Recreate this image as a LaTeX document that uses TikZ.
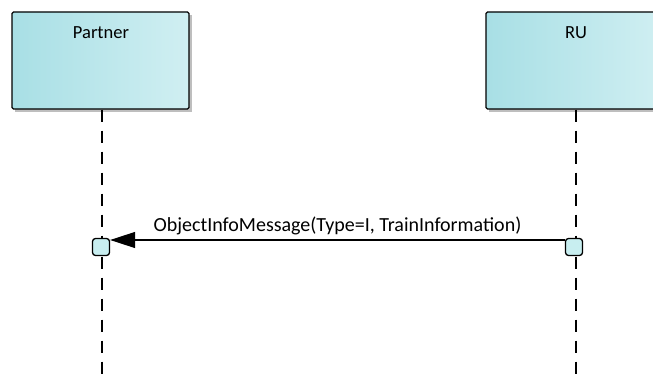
\documentclass[tikz,border=0pt]{standalone}
\usepackage{fontspec}
\setmainfont{Carlito}
\usetikzlibrary{arrows.meta,calc}
\definecolor{boxL}{RGB}{168,223,229}
\definecolor{boxR}{RGB}{208,239,242}
\definecolor{actfill}{RGB}{200,238,240}
\definecolor{shadowc}{RGB}{190,190,190}
\tikzset{
  lifebox/.style={draw=black, line width=1.4pt, rounded corners=1.5pt, left color=boxL, right color=boxR, minimum width=177pt, minimum height=97pt, inner sep=0pt},
  boxshadow/.style={fill=shadowc, draw=none, minimum width=177pt, minimum height=97pt, inner sep=0pt},
  lifeline/.style={draw=black, line width=1.3pt, dash pattern=on 12pt off 9pt},
  actbox/.style={draw=black, line width=1.3pt, fill=actfill, rounded corners=3pt, minimum size=17pt, inner sep=0pt},
  msg/.style={draw=black, line width=1.2pt, -{Triangle[length=25pt,width=16pt]}},
  lbl/.style={font=\fontsize{18.5}{22}\selectfont, inner sep=0pt},
  msglbl/.style={font=\fontsize{20}{24}\selectfont, inner sep=0pt}
}
\begin{document}
\begin{tikzpicture}[x=1pt,y=-1pt]
\useasboundingbox (0,0) rectangle (653,379);
\clip (0,0) rectangle (653,379);
% shadows
\node[boxshadow] (partnershadow) at (103.5,63.5) {};
\node[boxshadow] (rushadow) at (577.5,63.5) {};
% boxes
\node[lifebox] (partner) at (100.5,60.5) {};
\node[lifebox] (ru) at (574.5,60.5) {};
\node[lbl, anchor=base] (partnerlabel) at (101,39) {Partner};
\node[lbl, anchor=base] (rulabel) at (576,39) {RU};
% lifelines
\coordinate (pend) at (102,382);
\coordinate (rend) at (576,382);
\draw[lifeline] (partner.south -| pend) -- (pend);
\draw[lifeline] (ru.south -| rend) -- (rend);
% activations
\node[actbox] (act1) at (101,247) {};
\node[actbox] (act2) at (574,247) {};
% message
\draw[msg] ([yshift=7pt]act2.west) -- node[msglbl, above=4pt] (msglabel) {ObjectInfoMessage(Type=I, TrainInformation)} ([yshift=7pt]act1.east);
\end{tikzpicture}
\end{document}
